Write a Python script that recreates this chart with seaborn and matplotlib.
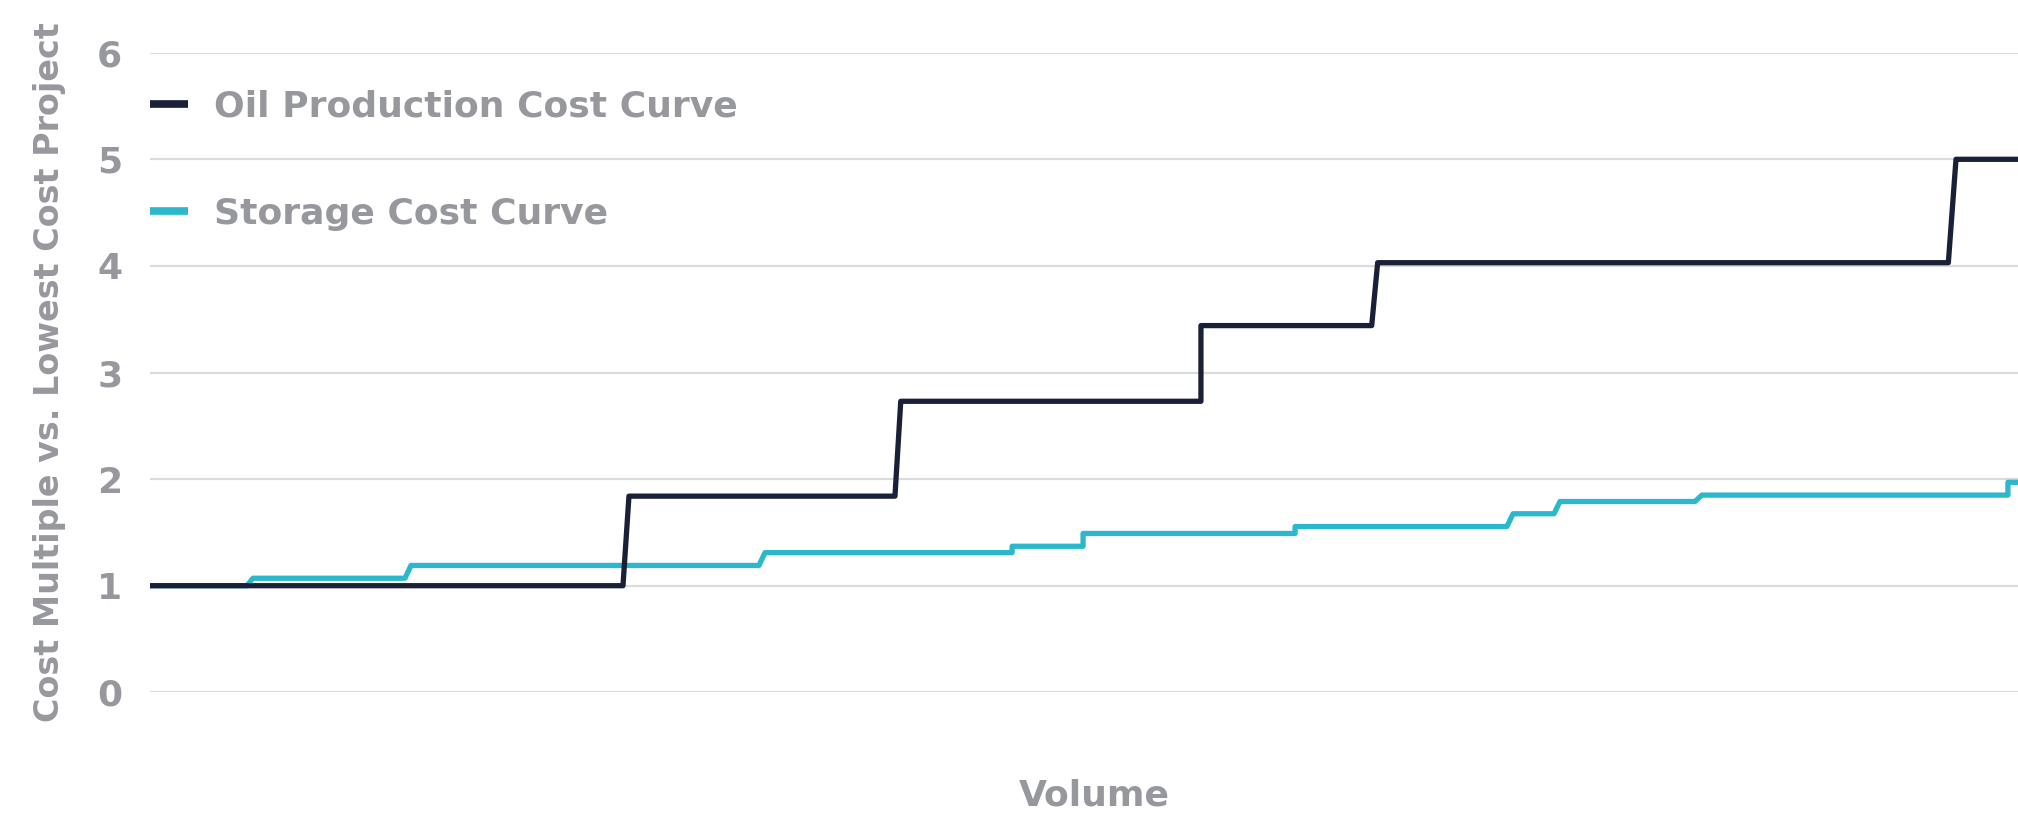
import pandas as pd
import matplotlib.pyplot as plt
import seaborn as sns

sns.set_style("white")
plt.rcParams["font.family"] = ["DejaVu Sans"]

# Step curves (x = volume, arbitrary units)
oil_x = [0, 25.32, 25.64, 39.88, 40.19, 56.26, 56.26, 65.40, 65.72, 96.27, 96.68, 101.1]
oil_y = [1.00, 1.00, 1.84, 1.84, 2.73, 2.73, 3.44, 3.44, 4.03, 4.03, 5.00, 5.00]

storage_x = [0, 5.19, 5.51, 13.65, 13.97, 32.60, 32.92, 46.15, 46.15, 49.95, 49.95,
             61.30, 61.30, 72.64, 72.97, 75.16, 75.48, 82.71, 83.08, 99.46, 99.46, 101.1]
storage_y = [1.00, 1.00, 1.07, 1.07, 1.19, 1.19, 1.31, 1.31, 1.37, 1.37, 1.49,
             1.49, 1.555, 1.555, 1.675, 1.675, 1.79, 1.79, 1.85, 1.85, 1.97, 1.97]

series_names = ["Oil Production Cost Curve", "Storage Cost Curve"]
colors = ["#1a2038", "#2bb8cc"]
y_ticks = [0, 1, 2, 3, 4, 5, 6]

df = pd.concat([
    pd.DataFrame({"Volume": oil_x, "Cost": oil_y, "Curve": series_names[0]}),
    pd.DataFrame({"Volume": storage_x, "Cost": storage_y, "Curve": series_names[1]}),
])

text_color = "#96989d"

fig = plt.figure(figsize=(20.18, 8.13), dpi=100)
ax = fig.add_axes([150 / 2018, 120.7 / 813, 1888 / 2018, 639.6 / 813])

sns.lineplot(data=df, x="Volume", y="Cost", hue="Curve", hue_order=series_names,
             palette=colors, estimator=None, sort=False, linewidth=3.8, ax=ax)
for ln in ax.lines:
    ln.set_solid_joinstyle("round")
    ln.set_solid_capstyle("round")
ax.lines[0].set_zorder(4)
ax.lines[1].set_zorder(3)

ax.set_xlim(0, 101.07)
ax.set_ylim(0, 6)
ax.set_yticks(y_ticks)
ax.set_xticks([])
ax.grid(axis="y", color="#d9dbdf", linewidth=1.6)
ax.set_axisbelow(True)
for s in ax.spines.values():
    s.set_visible(False)
ax.tick_params(axis="y", length=0, pad=20, labelsize=26, labelcolor=text_color)
for lbl in ax.get_yticklabels():
    lbl.set_fontweight("bold")

ax.set_ylabel("Cost Multiple vs. Lowest Cost Project", fontsize=24,
              color=text_color, fontweight="bold")
ax.yaxis.set_label_coords((66 - 150) / 1888, 0.5)
ax.set_xlabel("Volume", fontsize=26, color=text_color, fontweight="bold")
ax.xaxis.set_label_coords(0.5, -(778 - 692.3) / 639.6)

handles, labels = ax.get_legend_handles_labels()
leg = ax.legend(handles, labels, loc="upper left", bbox_to_anchor=(0, 0.942),
                frameon=False, fontsize=26, handlelength=1.05, handletextpad=0.72,
                labelspacing=2.03, borderpad=0, borderaxespad=0)
for h in leg.get_lines():
    h.set_linewidth(5.5)
    h.set_solid_capstyle("butt")
for t in leg.get_texts():
    t.set_color(text_color)
    t.set_fontweight("bold")

fig.savefig("out.png", dpi=100)
